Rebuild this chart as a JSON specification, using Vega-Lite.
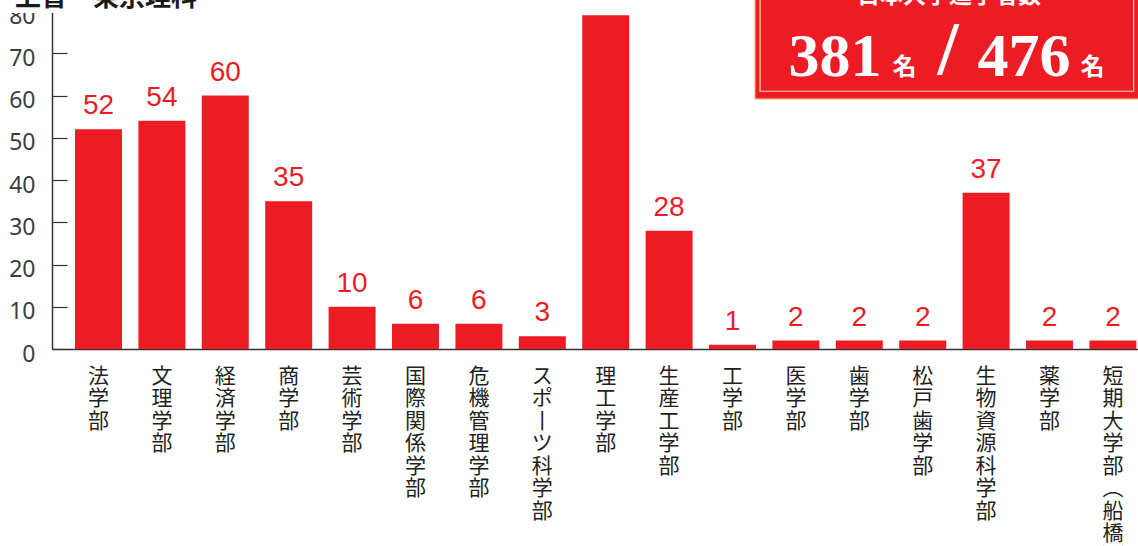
{
  "$schema": "https://vega.github.io/schema/vega-lite/v6.json",
  "width": 1086,
  "height": 338,
  "autosize": "none",
  "padding": {"left": 52, "top": 11, "right": 0, "bottom": 197},
  "background": "white",
  "config": {"view": {"stroke": null}},
  "datasets": {
    "depts": [
      {"dept": "法学部", "count": 52},
      {"dept": "文理学部", "count": 54},
      {"dept": "経済学部", "count": 60},
      {"dept": "商学部", "count": 35},
      {"dept": "芸術学部", "count": 10},
      {"dept": "国際関係学部", "count": 6},
      {"dept": "危機管理学部", "count": 6},
      {"dept": "スポーツ科学部", "count": 3},
      {"dept": "理工学部", "count": 79},
      {"dept": "生産工学部", "count": 28},
      {"dept": "工学部", "count": 1},
      {"dept": "医学部", "count": 2},
      {"dept": "歯学部", "count": 2},
      {"dept": "松戸歯学部", "count": 2},
      {"dept": "生物資源科学部", "count": 37},
      {"dept": "薬学部", "count": 2},
      {"dept": "短期大学部（船橋）", "count": 2}
    ],
    "box": [
      {"x1": 64.7, "x2": 102, "y1": 59.1, "y2": 100}
    ],
    "inner": [
      {"x1": 65.2, "x2": 99.6, "y1": 61.0, "y2": 100}
    ],
    "cover": [
      {"x1": -4.8, "x2": 14.5, "y1": 79.5, "y2": 100}
    ],
    "nums": [
      {"t": "381", "x": 72.1, "y": 64.6},
      {"t": "476", "x": 89.5, "y": 64.6}
    ],
    "units": [
      {"t": "名", "x": 78.5, "y": 64.9},
      {"t": "名", "x": 95.8, "y": 64.9}
    ],
    "slash": [
      {"t": "/", "x": 82.5, "y": 65.1}
    ],
    "head": [
      {"t": "日本大学進学者数", "x": 82.6, "y": 81.9}
    ],
    "title": [
      {"t": "上智・東京理科", "x": -3.4, "y": 81.2}
    ]
  },
  "resolve": {"scale": {"x": "independent"}, "axis": {"x": "independent"}},
  "layer": [
    {
      "data": {"name": "depts"},
      "encoding": {
        "x": {
          "field": "dept",
          "type": "nominal",
          "sort": null,
          "scale": {"paddingInner": 0.259, "paddingOuter": 0.194, "align": 0.935},
          "axis": {
            "title": null,
            "ticks": false,
            "domainColor": "#333333",
            "domainWidth": 1.5,
            "labelAngle": 0,
            "labelBaseline": "top",
            "labelAlign": "center",
            "labelPadding": 16,
            "labelFont": "Noto Sans CJK JP",
            "labelFontSize": 21,
            "labelLineHeight": 22.5,
            "labelColor": "#231f20",
            "labelLimit": 0,
            "labelOverlap": false,
            "labelExpr": "split(replace(replace(replace(datum.label, '（', '︵'), '）', '︶'), 'ー', '丨'), '')"
          }
        },
        "y": {
          "field": "count",
          "type": "quantitative",
          "scale": {"domain": [0, 80], "nice": false},
          "axis": {
            "title": null,
            "values": [0, 10, 20, 30, 40, 50, 60, 70, 80],
            "grid": false,
            "domainColor": "#333333",
            "domainWidth": 1.5,
            "tickColor": "#333333",
            "tickWidth": 1.2,
            "tickSize": -15,
            "labelPadding": 32,
            "labelOffset": 5,
            "labelFont": "Noto Sans",
            "labelFontSize": 23,
            "labelColor": "#3d3d3d",
            "labelBaseline": "middle"
          }
        }
      },
      "layer": [
        {"mark": {"type": "bar", "color": "#ED1C24"}},
        {
          "mark": {
            "type": "text",
            "color": "#ED1C24",
            "font": "Liberation Sans",
            "fontSize": 28,
            "baseline": "alphabetic",
            "dy": -15
          },
          "encoding": {"text": {"field": "count", "type": "quantitative"}}
        }
      ]
    },
    {
      "data": {"name": "cover"},
      "mark": {"type": "rect", "fill": "white"},
      "encoding": {
        "x": {"field": "x1", "type": "quantitative", "scale": {"domain": [0, 100], "nice": false, "zero": false}, "axis": null},
        "x2": {"field": "x2"},
        "y": {"field": "y1", "type": "quantitative"},
        "y2": {"field": "y2"}
      }
    },
    {
      "data": {"name": "box"},
      "mark": {"type": "rect", "fill": "#ED1C24", "stroke": "#F3D7A6", "strokeWidth": 1.5},
      "encoding": {
        "x": {"field": "x1", "type": "quantitative", "scale": {"domain": [0, 100], "nice": false, "zero": false}, "axis": null},
        "x2": {"field": "x2"},
        "y": {"field": "y1", "type": "quantitative"},
        "y2": {"field": "y2"}
      }
    },
    {
      "data": {"name": "inner"},
      "mark": {"type": "rect", "fillOpacity": 0, "stroke": "#F3D7A6", "strokeWidth": 1.2},
      "encoding": {
        "x": {"field": "x1", "type": "quantitative", "scale": {"domain": [0, 100], "nice": false, "zero": false}, "axis": null},
        "x2": {"field": "x2"},
        "y": {"field": "y1", "type": "quantitative"},
        "y2": {"field": "y2"}
      }
    },
    {
      "data": {"name": "nums"},
      "mark": {"type": "text", "color": "white", "font": "Liberation Serif", "fontWeight": "bold", "fontSize": 62, "baseline": "alphabetic", "align": "center"},
      "encoding": {
        "x": {"field": "x", "type": "quantitative", "scale": {"domain": [0, 100], "nice": false, "zero": false}, "axis": null},
        "y": {"field": "y", "type": "quantitative"},
        "text": {"field": "t"}
      }
    },
    {
      "data": {"name": "units"},
      "mark": {"type": "text", "color": "white", "font": "Noto Sans CJK JP", "fontWeight": "bold", "fontSize": 24, "baseline": "alphabetic", "align": "center"},
      "encoding": {
        "x": {"field": "x", "type": "quantitative", "scale": {"domain": [0, 100], "nice": false, "zero": false}, "axis": null},
        "y": {"field": "y", "type": "quantitative"},
        "text": {"field": "t"}
      }
    },
    {
      "data": {"name": "slash"},
      "mark": {"type": "text", "color": "white", "font": "Liberation Serif", "fontWeight": "bold", "fontSize": 76, "baseline": "alphabetic", "align": "center"},
      "encoding": {
        "x": {"field": "x", "type": "quantitative", "scale": {"domain": [0, 100], "nice": false, "zero": false}, "axis": null},
        "y": {"field": "y", "type": "quantitative"},
        "text": {"field": "t"}
      }
    },
    {
      "data": {"name": "head"},
      "mark": {"type": "text", "color": "white", "font": "Noto Sans CJK JP", "fontWeight": "bold", "fontSize": 23, "baseline": "alphabetic", "align": "center"},
      "encoding": {
        "x": {"field": "x", "type": "quantitative", "scale": {"domain": [0, 100], "nice": false, "zero": false}, "axis": null},
        "y": {"field": "y", "type": "quantitative"},
        "text": {"field": "t"}
      }
    },
    {
      "data": {"name": "title"},
      "mark": {"type": "text", "color": "#1a1a1a", "font": "Noto Sans CJK JP", "fontWeight": "bold", "fontSize": 26, "baseline": "alphabetic", "align": "left"},
      "encoding": {
        "x": {"field": "x", "type": "quantitative", "scale": {"domain": [0, 100], "nice": false, "zero": false}, "axis": null},
        "y": {"field": "y", "type": "quantitative"},
        "text": {"field": "t"}
      }
    }
  ]
}
